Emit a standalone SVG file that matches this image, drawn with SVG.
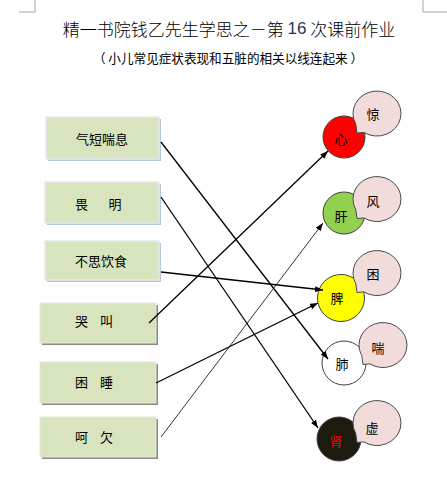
<svg xmlns="http://www.w3.org/2000/svg" xmlns:xlink="http://www.w3.org/1999/xlink" width="447" height="489" viewBox="0 0 447 489">
<style>
text{font-family:"Noto Sans CJK SC","Noto Sans",sans-serif;fill:#000;text-anchor:middle;dominant-baseline:central}
.box{fill:#d7e4bd}
.bx1{stroke:#e4eaf1;stroke-width:1.5}
.sh1{fill:#b8c7d6}
.bx2{stroke:#e3ead5;stroke-width:1}
.sh2{fill:#8a8a8a}
.organ{stroke:#3f3f3f;stroke-width:1}
.bubble{fill:#f2dcdb;stroke:#4a4a4a;stroke-width:1}
.ln{stroke:#000;stroke-width:1.3;fill:none;marker-end:url(#ah)}
.thin{stroke-width:0.8}
.lbl{font-size:13px}
.corner{stroke:#a6a6a6;stroke-width:1;fill:none}
</style>
<defs>
<marker id="ah" markerUnits="userSpaceOnUse" markerWidth="9" markerHeight="7" refX="8" refY="3" orient="auto">
<path d="M0,0 L8,3 L0,6 z" fill="#000"/>
</marker>
<path id="bub" d="M-13.1,18.9 l-6.9,0.6 l-1.2,-8.9 a24 22.5 0 1 1 8.1,8.3 z"/>
</defs>
<rect width="447" height="489" fill="#fff"/>
<path class="corner" d="M35,0 V12 H19"/>
<path class="corner" d="M423,0 V12 H447"/>
<text x="229" y="28" style="font-size:17px;font-weight:300">精一书院钱乙先生学思之－第 <tspan fill="#1f3864" style="font-family:'Liberation Sans',sans-serif;font-weight:400">16</tspan> 次课前作业</text>
<text x="228" y="57" style="font-size:12.6px">（ 小儿常见症状表现和五脏的相关以线连起来 ）</text>

<g id="box-qiduan"><rect class="sh1" x="48" y="119" width="113" height="42"/><rect class="box bx1" x="46" y="117" width="113" height="42"/><text class="lbl" x="102" y="138">气短喘息</text></g>
<g id="box-weiming"><rect class="sh1" x="47" y="184" width="114" height="41"/><rect class="box bx1" x="45" y="182" width="114" height="41"/><text class="lbl" x="81.5" y="203">畏</text><text class="lbl" x="115" y="203">明</text></g>
<g id="box-busi"><rect class="sh1" x="47" y="243" width="114" height="39"/><rect class="box bx1" x="45" y="241" width="114" height="39"/><text class="lbl" x="101" y="260">不思饮食</text></g>
<g id="box-kujiao"><rect class="sh2" x="42" y="305" width="116" height="40"/><rect class="box bx2" x="40" y="303" width="116" height="40"/><text class="lbl" x="81.5" y="320">哭</text><text class="lbl" x="106.5" y="320">叫</text></g>
<g id="box-kunshui"><rect class="sh2" x="42" y="364" width="116" height="41"/><rect class="box bx2" x="40" y="362" width="116" height="41"/><text class="lbl" x="81.5" y="381">困</text><text class="lbl" x="106.5" y="381">睡</text></g>
<g id="box-heqian"><rect class="sh2" x="42" y="419" width="116" height="40"/><rect class="box bx2" x="40" y="417" width="116" height="40"/><text class="lbl" x="81.5" y="436">呵</text><text class="lbl" x="106.5" y="436">欠</text></g>

<g id="organ-xin"><circle class="organ" cx="344" cy="137" r="21" fill="#ff0000"/><use xlink:href="#bub" class="bubble" x="377" y="113.5"/><text class="lbl" x="341" y="138">心</text><text class="lbl" x="373" y="113">惊</text></g>
<g id="organ-gan"><circle class="organ" cx="344" cy="213" r="21" fill="#92d050"/><use xlink:href="#bub" class="bubble" x="377" y="199"/><text class="lbl" x="341" y="215">肝</text><text class="lbl" x="373" y="200">风</text></g>
<g id="organ-pi"><circle class="organ" cx="341" cy="298" r="23.5" fill="#ffff00"/><use xlink:href="#bub" class="bubble" x="377" y="273"/><text class="lbl" x="337" y="297">脾</text><text class="lbl" x="373" y="273">困</text></g>
<g id="organ-fei"><circle class="organ" cx="344" cy="363" r="22" fill="#ffffff"/><use xlink:href="#bub" class="bubble" x="383" y="345"/><text class="lbl" x="342" y="363">肺</text><text class="lbl" x="378" y="347">喘</text></g>
<g id="organ-shen"><circle class="organ" cx="339" cy="439" r="22" fill="#1d1b10"/><use xlink:href="#bub" class="bubble" x="377" y="423"/><text class="lbl" x="336" y="440" style="fill:#ff0000">肾</text><text class="lbl" x="372" y="427">虚</text></g>

<g id="connectors">
<line class="ln" x1="161" y1="142" x2="328" y2="359"/>
<line class="ln" x1="161" y1="197" x2="318" y2="428"/>
<line class="ln" x1="161" y1="272" x2="323" y2="290"/>
<line class="ln" x1="149" y1="323" x2="328" y2="151"/>
<line class="ln" x1="156" y1="383" x2="318" y2="303"/>
<line class="ln thin" x1="161" y1="437" x2="323" y2="223"/>
</g>
</svg>
